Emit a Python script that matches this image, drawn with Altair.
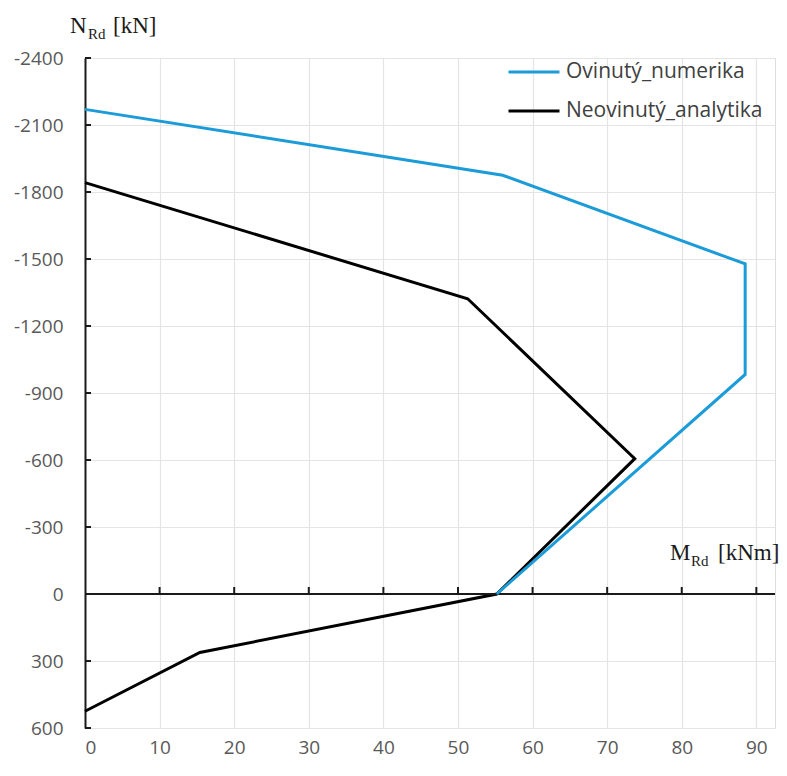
import altair as alt
import pandas as pd

# Data (M_Rd in kNm, N_Rd in kN)
series_names = ["Ovinutý_numerika", "Neovinutý_analytika"]
series_colors = ["#1b9bd7", "#000000"]

blue_m = [0, 56.0, 88.5, 88.5, 55.2]
blue_n = [-2170, -1875, -1478, -983, 0]

black_m = [0, 51.3, 73.7, 55.2, 15.4, 0]
black_n = [-1842, -1322, -606, 0, 262, 525]

x_ticks = [0, 10, 20, 30, 40, 50, 60, 70, 80, 90]
x_minor_ticks = [10, 20, 30, 40, 50, 60, 70, 80, 90]
y_ticks = [-2400, -2100, -1800, -1500, -1200, -900, -600, -300, 0, 300, 600]
y_axis_ticks = [-2400, -2100, -1800, -1500, -1200, -900, -600, -300, 300, 600]

blue_df = pd.DataFrame({"M": blue_m, "N": blue_n, "order": list(range(len(blue_m))),
                        "series": series_names[0]})
black_df = pd.DataFrame({"M": black_m, "N": black_n, "order": list(range(len(black_m))),
                         "series": series_names[1]})

W, H = 690, 670
LABEL_FONT = "Open Sans"
SERIF = "Liberation Serif"

xscale = alt.Scale(domain=[0, 92.5], nice=False, zero=False)
yscale = alt.Scale(domain=[-2400, 600], reverse=True, nice=False, zero=False)

xaxis = alt.Axis(values=x_ticks, grid=True, gridColor="#e4e4e4", gridWidth=1.2,
                 domain=False, ticks=False, labelFontSize=19, labelFont=LABEL_FONT,
                 labelColor="#595959", labelPadding=10, title=None)
yaxis = alt.Axis(values=y_ticks, grid=True, gridColor="#e4e4e4", gridWidth=1.2,
                 domain=True, domainColor="#1a1a1a", domainWidth=2, ticks=False,
                 labelFontSize=19, labelFont=LABEL_FONT, labelColor="#595959",
                 labelPadding=22, labelExpr="'' + datum.value", title=None)

color = alt.Color("series:N",
                  scale=alt.Scale(domain=series_names, range=series_colors),
                  legend=alt.Legend(orient="none", legendX=422, legendY=4, title=None,
                                    symbolType="stroke", symbolSize=2600,
                                    symbolStrokeWidth=3, labelFontSize=21,
                                    labelFont=LABEL_FONT, labelColor="#404040",
                                    labelOffset=5, labelLimit=400, clipHeight=20,
                                    rowPadding=18, padding=0))

black_line = alt.Chart(black_df).mark_line(strokeWidth=3, strokeJoin="miter").encode(
    x=alt.X("M:Q", scale=xscale, axis=xaxis),
    y=alt.Y("N:Q", scale=yscale, axis=yaxis),
    order="order:Q",
    color=color,
)
blue_line = alt.Chart(blue_df).mark_line(strokeWidth=3, strokeJoin="miter").encode(
    x=alt.X("M:Q", scale=xscale),
    y=alt.Y("N:Q", scale=yscale),
    order="order:Q",
    color=color,
)

# horizontal axis line at N = 0
zero_line = alt.Chart(alt.Data(values=[{}])).mark_rule(color="#1a1a1a", strokeWidth=2).encode(
    y=alt.datum(0, scale=yscale)
)
# upward tick marks on the N = 0 line
xtick_df = pd.DataFrame({"t": x_minor_ticks})
x_tickmarks = alt.Chart(xtick_df).mark_rule(color="#1a1a1a", strokeWidth=2, y2Offset=-7).encode(
    x=alt.X("t:Q", scale=xscale),
    y=alt.datum(0, scale=yscale),
    y2=alt.datum(0),
)
# inward tick marks on the vertical axis
ytick_df = pd.DataFrame({"t": y_axis_ticks})
y_tickmarks = alt.Chart(ytick_df).mark_rule(color="#1a1a1a", strokeWidth=2, x2Offset=6).encode(
    y=alt.Y("t:Q", scale=yscale),
    x=alt.datum(0, scale=xscale),
    x2=alt.datum(0),
)

def txt(s, x, y, size, font=SERIF):
    return alt.Chart(alt.Data(values=[{}])).mark_text(
        align="left", baseline="alphabetic", font=font, fontSize=size, color="#1a1a1a"
    ).encode(x=alt.value(x), y=alt.value(y), text=alt.value(s))

titles = [
    txt("N", -15, -25, 23),
    txt("Rd", 3, -19, 15),
    txt("[kN]", 28, -25, 23),
    txt("M", 585, 502, 23),
    txt("Rd", 606, 508, 15),
    txt("[kNm]", 633, 502, 23),
]

chart = alt.layer(
    black_line, zero_line, x_tickmarks, y_tickmarks, blue_line, *titles
).properties(
    width=W, height=H,
    autosize=alt.AutoSizeParams(type="none"),
    padding={"left": 77, "top": 50, "right": 4, "bottom": 40},
).configure_view(stroke=None).configure(background="white")

chart.save("out.html", embed_options={"renderer": "svg", "actions": False})
